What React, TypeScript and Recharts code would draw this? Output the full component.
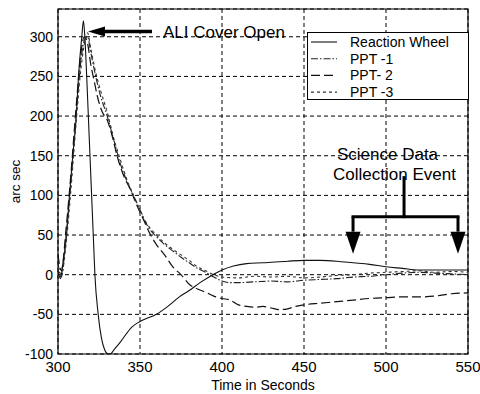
import React from 'react';
import {
  LineChart, Line, XAxis, YAxis, CartesianGrid, ReferenceArea, ReferenceLine,
  ReferenceDot, Legend,
} from 'recharts';

// ---------- data ----------
const xTicks = [300, 350, 400, 450, 500, 550];
const yTicks = [-100, -50, 0, 50, 100, 150, 200, 250, 300];

const rwTime = [300, 301.5, 303, 305, 307, 309, 311, 312.5, 314.5, 315.5, 316.5, 317.5, 318.5, 319.5, 320.5, 321.5, 322.5, 324.5, 326.5, 328.5, 330.5, 332, 334, 338, 345, 350, 360, 367, 374, 380, 386.6, 394.5, 400, 407, 415, 425, 440, 450, 460, 470, 480, 490, 500, 510, 520, 530, 540, 550];
const rwVal = [5, -5, 15, 45, 100, 150, 195, 250, 300, 320, 295, 250, 200, 150, 100, 50, 0, -50, -80, -95, -100, -100, -95, -85, -66, -59, -50, -40, -28, -20, -10, 0, 6, 11, 14, 15, 17, 18, 18, 17, 15, 13, 10, 8, 6, 6, 6, 6];

const p1Time = [300, 302, 305, 308, 311, 314, 316, 318, 320, 323, 326, 330, 334, 338, 342, 346, 350, 355, 360, 365, 370, 375, 380, 385, 390, 395, 400, 405, 410, 420, 430, 440, 450, 460, 470, 480, 490, 500, 510, 520, 530, 540, 550];
const p1Val = [15, -3, 50, 120, 200, 270, 295, 300, 280, 250, 225, 200, 170, 140, 118, 100, 82, 60, 48, 38, 30, 22, 15, 8, 3, -3, -8, -10, -10, -9, -8, -9, -7, -6, -5, -3, -2, 0, 2, 3, 2, 1, 0];

const p2Time = [300, 302, 305, 308, 311, 314, 316, 318, 320, 322, 324, 327, 330, 333, 336, 340, 344, 348, 352, 356, 360, 365, 370, 375, 380, 385, 390, 395, 400, 405, 410, 415, 420, 425, 430, 435, 440, 445, 450, 460, 470, 480, 490, 500, 510, 520, 530, 540, 550];
const p2Val = [25, 5, 60, 130, 210, 280, 300, 292, 265, 245, 225, 205, 195, 175, 150, 125, 108, 88, 70, 52, 38, 25, 10, 0, -12, -18, -22, -27, -30, -32, -38, -40, -41, -40, -42, -44, -43, -40, -38, -36, -34, -32, -30, -29, -28, -28, -27, -24, -23];

const p3Time = [300, 302, 305, 308, 311, 314, 316, 318, 320, 323, 326, 330, 334, 338, 342, 346, 350, 355, 360, 365, 370, 375, 380, 385, 390, 395, 400, 410, 420, 430, 440, 450, 460, 470, 480, 490, 500, 510, 520, 530, 540, 550];
const p3Val = [10, 0, 40, 110, 190, 260, 290, 305, 285, 255, 232, 205, 172, 145, 120, 100, 80, 62, 50, 40, 32, 25, 18, 10, 5, 0, -3, -4, -2, -3, -2, -4, -3, -1, 0, 2, 3, 4, 5, 3, 4, 3];

const seriesNames = ['Reaction Wheel', 'PPT -1', 'PPT- 2', 'PPT -3'];

const toPts = (ts: number[], vs: number[]) => ts.map((t, i) => ({ t, v: vs[i] }));
const seriesData = [toPts(rwTime, rwVal), toPts(p1Time, p1Val), toPts(p2Time, p2Val), toPts(p3Time, p3Val)];

// ---------- styles ----------
const FONT = '"Liberation Sans", Arial, Helvetica, sans-serif';
const seriesStyle = [
  { stroke: '#111', dash: undefined as string | undefined, width: 1.1 },
  { stroke: '#222', dash: '7 2 1.5 2', width: 1.1 },
  { stroke: '#111', dash: '9 4', width: 1.2 },
  { stroke: '#333', dash: '3 3', width: 1.1 },
];

// annotation anchors (data coordinates)
const aliArrow = [{ x: 357.3, y: 306.6 }, { x: 318.3, y: 306.6 }];
const aliText = { x: 364, y: 299, text: 'ALI Cover Open' };
const sciText1 = { x: 470.1, y: 145, text: 'Science Data' };
const sciText2 = { x: 467.7, y: 120, text: 'Collection Event' };
const bracketStem = [{ x: 511, y: 122.4 }, { x: 511, y: 73.2 }];
const bracketBar = [{ x: 479.9, y: 73.2 }, { x: 543.9, y: 73.2 }];
const bracketLeft = [{ x: 479.9, y: 73.2 }, { x: 479.9, y: 26.5 }];
const bracketRight = [{ x: 543.9, y: 73.2 }, { x: 543.9, y: 26.5 }];

const ArrowShape = (headLen: number, headHalf: number, w: number) => (p: any) => {
  const { x1, y1, x2, y2 } = p;
  const dx = x2 - x1, dy = y2 - y1;
  const len = Math.sqrt(dx * dx + dy * dy) || 1;
  const ux = dx / len, uy = dy / len;
  const bx = x2 - ux * headLen, by = y2 - uy * headLen;
  const nx = -uy, ny = ux;
  return (
    <g>
      <line x1={x1} y1={y1} x2={bx} y2={by} stroke="#000" strokeWidth={w} />
      <polygon
        points={`${x2},${y2} ${bx + nx * headHalf},${by + ny * headHalf} ${bx - nx * headHalf},${by - ny * headHalf}`}
        fill="#000"
      />
    </g>
  );
};

const PlainShape = (w: number) => (p: any) => (
  <line x1={p.x1} y1={p.y1} x2={p.x2} y2={p.y2} stroke="#000" strokeWidth={w} strokeLinecap="square" />
);

const TextShape = (txt: string, size: number) => (p: any) => (
  <text x={p.cx} y={p.cy} fontFamily={FONT} fontSize={size} fill="#000">{txt}</text>
);

const LegendBox = () => (
  <svg width={162} height={68} style={{ display: 'block' }}>
    <rect x={0.5} y={0.5} width={161} height={67} fill="#fff" stroke="#000" strokeWidth={1} />
    {seriesNames.map((n, i) => {
      const y = 10 + i * 16.7;
      return (
        <g key={n}>
          <line x1={4} x2={30} y1={y} y2={y} stroke={seriesStyle[i].stroke}
            strokeWidth={seriesStyle[i].width} strokeDasharray={seriesStyle[i].dash} />
          <text x={43} y={y} dominantBaseline="central" fontFamily={FONT} fontSize={14} fill="#000">{n}</text>
        </g>
      );
    })}
  </svg>
);

export default function App() {
  return (
    <div style={{ position: 'absolute', left: 0, top: 0, width: 480, height: 394, background: '#fff' }}>
      <LineChart width={480} height={394} margin={{ top: 9, right: 12, bottom: 0, left: 0 }}>
        <CartesianGrid stroke="#000" strokeDasharray="4 3" strokeWidth={1} />
        <XAxis
          dataKey="t" type="number" domain={[300, 550]} ticks={xTicks} allowDataOverflow
          height={40} axisLine={false} tickLine={false} tickSize={3} tickMargin={4}
          tick={{ fontFamily: FONT, fontSize: 15, fill: '#000' }}
          label={{ value: 'Time in Seconds', position: 'insideBottom', offset: 4, fontFamily: FONT, fontSize: 14, fill: '#000' }}
        />
        <YAxis
          dataKey="v" type="number" domain={[-100, 335]} ticks={yTicks} allowDataOverflow
          width={58} axisLine={false} tickLine={false} tickSize={3} tickMargin={2}
          tick={{ fontFamily: FONT, fontSize: 14, fill: '#000' }}
          label={{ value: 'arc sec', angle: -90, position: 'center', dx: -14, fontFamily: FONT, fontSize: 13.5, fill: '#000' }}
        />
        <ReferenceArea x1={300} x2={550} y1={-100} y2={335} fill="none" stroke="#000" strokeWidth={1.2} ifOverflow="visible" />
        {seriesData.map((d, i) => (
          <Line key={seriesNames[i]} data={d} dataKey="v" name={seriesNames[i]} type="monotone"
            stroke={seriesStyle[i].stroke} strokeWidth={seriesStyle[i].width}
            strokeDasharray={seriesStyle[i].dash} dot={false} activeDot={false}
            isAnimationActive={false} />
        ))}
        <ReferenceLine segment={aliArrow} shape={ArrowShape(17, 5, 3.5)} ifOverflow="visible" />
        <ReferenceLine segment={bracketStem} shape={PlainShape(3)} ifOverflow="visible" />
        <ReferenceLine segment={bracketBar} shape={PlainShape(3)} ifOverflow="visible" />
        <ReferenceLine segment={bracketLeft} shape={ArrowShape(22, 7.5, 3)} ifOverflow="visible" />
        <ReferenceLine segment={bracketRight} shape={ArrowShape(22, 7.5, 3)} ifOverflow="visible" />
        <ReferenceDot x={aliText.x} y={aliText.y} r={0} shape={TextShape(aliText.text, 17)} ifOverflow="visible" />
        <ReferenceDot x={sciText1.x} y={sciText1.y} r={0} shape={TextShape(sciText1.text, 17)} ifOverflow="visible" />
        <ReferenceDot x={sciText2.x} y={sciText2.y} r={0} shape={TextShape(sciText2.text, 17)} ifOverflow="visible" />
        <Legend layout="vertical" align="center" verticalAlign="middle" content={() => <LegendBox />}
          wrapperStyle={{ position: 'absolute', left: 307, top: 32, width: 162, height: 68 }} />
      </LineChart>
    </div>
  );
}
